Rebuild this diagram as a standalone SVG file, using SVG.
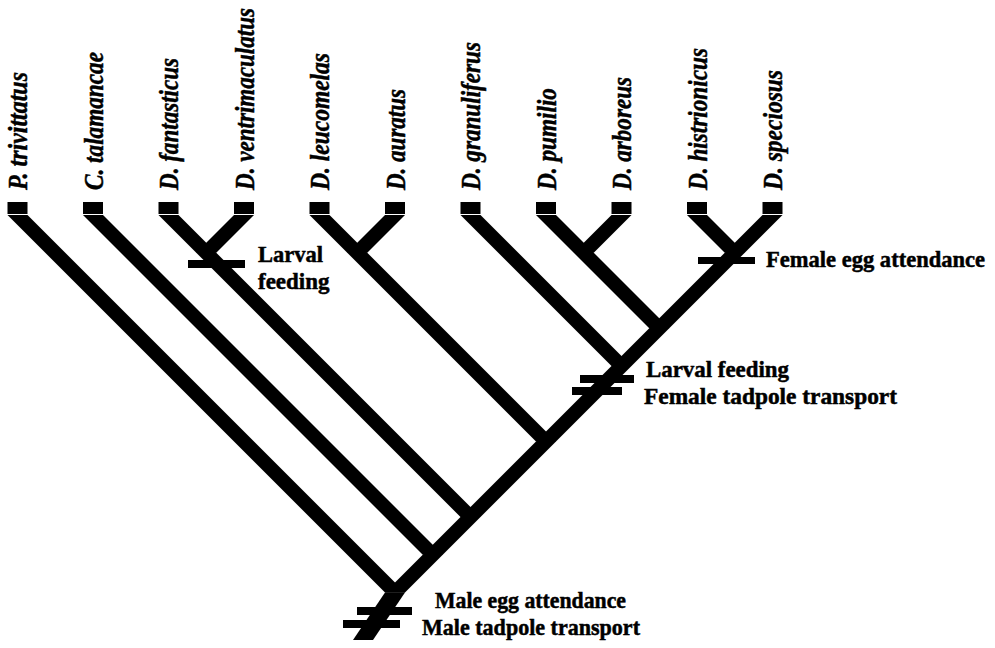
<svg xmlns="http://www.w3.org/2000/svg" width="995" height="648" viewBox="0 0 995 648">
<style>
.sp{font-family:'Liberation Serif','Times New Roman',Times,'DejaVu Serif',serif;font-weight:700;font-style:italic;font-size:27px;fill:#000;stroke:#000;stroke-width:0.5px}
.tr{font-family:'Liberation Serif','Times New Roman',Times,'DejaVu Serif',serif;font-weight:700;font-size:23px;fill:#000;stroke:#000;stroke-width:0.5px}
.tip{fill:#000}
.br{fill:#000}
.mk{fill:#000}
</style>
<rect width="995" height="648" fill="#fff"/>
<g id="connectors">
<polygon class="br" points="7.5,215 27.5,215 405,592.5 385,592.5"/>
<polygon class="br" points="83,215 103,215 442.75,554.75 422.75,554.75"/>
<polygon class="br" points="158.5,215 178.5,215 480.5,517 460.5,517"/>
<polygon class="br" points="234,215 254,215 216.25,252.75 196.25,252.75"/>
<polygon class="br" points="309.5,215 329.5,215 556,441.5 536,441.5"/>
<polygon class="br" points="385,215 405,215 367.25,252.75 347.25,252.75"/>
<polygon class="br" points="460.5,215 480.5,215 631.5,366 611.5,366"/>
<polygon class="br" points="536,215 556,215 669.25,328.25 649.25,328.25"/>
<polygon class="br" points="611.5,215 631.5,215 593.75,252.75 573.75,252.75"/>
<polygon class="br" points="687,215 707,215 744.75,252.75 724.75,252.75"/>
<polygon class="br" points="762.5,215 782.5,215 405,592.5 385,592.5"/>
<polygon class="br" points="385,592.5 405,592.5 373,640 353,640"/>
</g>
<g id="tips">
<rect class="tip" x="7.5" y="202" width="20" height="12"/>
<rect class="tip" x="83" y="202" width="20" height="12"/>
<rect class="tip" x="158.5" y="202" width="20" height="12"/>
<rect class="tip" x="234" y="202" width="20" height="12"/>
<rect class="tip" x="309.5" y="202" width="20" height="12"/>
<rect class="tip" x="385" y="202" width="20" height="12"/>
<rect class="tip" x="460.5" y="202" width="20" height="12"/>
<rect class="tip" x="536" y="202" width="20" height="12"/>
<rect class="tip" x="611.5" y="202" width="20" height="12"/>
<rect class="tip" x="687" y="202" width="20" height="12"/>
<rect class="tip" x="762.5" y="202" width="20" height="12"/>
</g>
<g id="node-p-trivittatus"><text class="sp" transform="translate(27,190) rotate(-90)" textLength="118" lengthAdjust="spacingAndGlyphs">P. trivittatus</text></g>
<g id="node-c-talamancae"><text class="sp" transform="translate(102.5,190) rotate(-90)" textLength="138" lengthAdjust="spacingAndGlyphs">C. talamancae</text></g>
<g id="node-d-fantasticus"><text class="sp" transform="translate(178,190) rotate(-90)" textLength="132" lengthAdjust="spacingAndGlyphs">D. fantasticus</text></g>
<g id="node-d-ventrimaculatus"><text class="sp" transform="translate(253.5,190) rotate(-90)" textLength="182" lengthAdjust="spacingAndGlyphs">D. ventrimaculatus</text></g>
<g id="node-d-leucomelas"><text class="sp" transform="translate(329,190) rotate(-90)" textLength="137" lengthAdjust="spacingAndGlyphs">D. leucomelas</text></g>
<g id="node-d-auratus"><text class="sp" transform="translate(404.5,190) rotate(-90)" textLength="101" lengthAdjust="spacingAndGlyphs">D. auratus</text></g>
<g id="node-d-granuliferus"><text class="sp" transform="translate(480,190) rotate(-90)" textLength="148" lengthAdjust="spacingAndGlyphs">D. granuliferus</text></g>
<g id="node-d-pumilio"><text class="sp" transform="translate(555.5,190) rotate(-90)" textLength="102" lengthAdjust="spacingAndGlyphs">D. pumilio</text></g>
<g id="node-d-arboreus"><text class="sp" transform="translate(631,190) rotate(-90)" textLength="113" lengthAdjust="spacingAndGlyphs">D. arboreus</text></g>
<g id="node-d-histrionicus"><text class="sp" transform="translate(706.5,190) rotate(-90)" textLength="142" lengthAdjust="spacingAndGlyphs">D. histrionicus</text></g>
<g id="node-d-speciosus"><text class="sp" transform="translate(782,190) rotate(-90)" textLength="120" lengthAdjust="spacingAndGlyphs">D. speciosus</text></g>
<g id="trait-larval-feeding-1">
<rect class="mk" x="188" y="260" width="57" height="8"/>
<text class="tr" x="258" y="262" textLength="65" lengthAdjust="spacingAndGlyphs">Larval</text>
<text class="tr" x="258" y="289">feeding</text>
</g>
<g id="trait-female-egg">
<rect class="mk" x="698" y="257" width="57" height="7"/>
<text class="tr" x="766" y="267" textLength="219" lengthAdjust="spacingAndGlyphs">Female egg attendance</text>
</g>
<g id="trait-larval-female-transport">
<rect class="mk" x="580" y="375" width="54" height="8"/>
<rect class="mk" x="572" y="387" width="50" height="8"/>
<text class="tr" x="646" y="377" textLength="143" lengthAdjust="spacingAndGlyphs">Larval feeding</text>
<text class="tr" x="644" y="404" textLength="253" lengthAdjust="spacingAndGlyphs">Female tadpole transport</text>
</g>
<g id="trait-male">
<rect class="mk" x="357" y="607" width="55" height="8"/>
<rect class="mk" x="343" y="620" width="57" height="8"/>
<text class="tr" x="435" y="608" textLength="191" lengthAdjust="spacingAndGlyphs">Male egg attendance</text>
<text class="tr" x="422" y="635" textLength="218" lengthAdjust="spacingAndGlyphs">Male tadpole transport</text>
</g>
</svg>
